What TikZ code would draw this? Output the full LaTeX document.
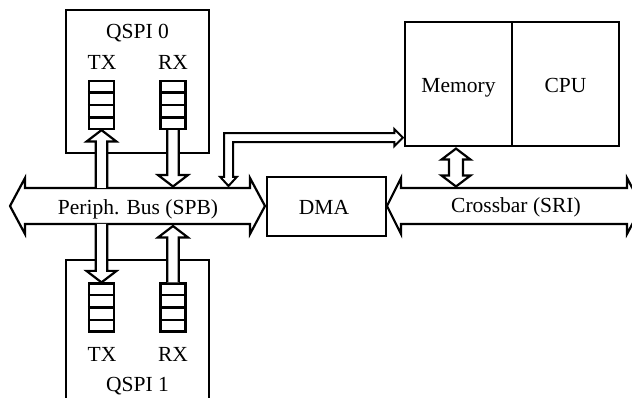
\documentclass[tikz,border=0pt]{standalone}
\usepackage{fontspec}
\setmainfont{Liberation Serif}
\usetikzlibrary{calc}
\newcommand\fifo[3]{%
  \node[fifobox] (#1) at (#2,#3) {};
  \foreach \k in {1,2,3}{\draw ($(#1.north west)!\k/4!(#1.south west)$) -- ($(#1.north east)!\k/4!(#1.south east)$);}
}
% vertical hollow arrow: #1 tip, #2 tail, #3 = 1 (up) or -1 (down)
\newcommand\vhollow[3]{%
  \filldraw[harrow] ($(#2)+(-5.8,0)$) -- ($(#1)+(-5.8,#3*11.5)$) -- ($(#1)+(-15,#3*11.5)$) -- (#1)
    -- ($(#1)+(15,#3*11.5)$) -- ($(#1)+(5.8,#3*11.5)$) -- ($(#2)+(5.8,0)$);
}
\begin{document}
\begin{tikzpicture}[x=1pt,y=-1pt,line width=2.2pt,
  lbl/.style={anchor=base,inner sep=0pt,font=\fontsize{21.5}{25}\selectfont},
  box/.style={draw,inner sep=0pt},
  fifobox/.style={draw,inner sep=0pt,minimum width=25,minimum height=48},
  harrow/.style={draw=black,fill=white},
  bus/.style={draw=black,fill=white}]
\useasboundingbox (0,0) rectangle (632,398);
\clip (0,0) rectangle (632,398);

% QSPI boxes
\node[box,minimum width=143,minimum height=143] (q0) at (137.5,81.5) {};
\node[box,minimum width=143,minimum height=170] (q1) at (137.5,345) {};
\node[lbl] (q0t) at (137.5,39) {QSPI 0};
\node[lbl] (q1t) at (137.5,391) {QSPI 1};
\node[lbl] (tx0) at (102,70) {TX};
\node[lbl] (rx0) at (173,70) {RX};
\node[lbl] (tx1) at (102,361) {TX};
\node[lbl] (rx1) at (173,361) {RX};

% FIFOs
\fifo{fT0}{101.5}{105}
\fifo{fR0}{173}{105}
\fifo{fT1}{101.5}{307.5}
\fifo{fR1}{173}{307.5}

% Peripheral bus (SPB)
\filldraw[bus] (10,206) -- (25,178) -- (25,188) -- (250,188) -- (250,178) -- (265,206)
  -- (250,234) -- (250,224) -- (25,224) -- (25,234) -- cycle;
\node[lbl] (spb) at (138,215) {Periph. Bus (SPB)};
\coordinate (spbTop) at (138,188);
\coordinate (spbBot) at (138,224);

% Crossbar (SRI)
\filldraw[bus] (387,206) -- (401,178) -- (401,188) -- (627,188) -- (627,178) -- (642,206)
  -- (627,234) -- (627,224) -- (401,224) -- (401,234) -- cycle;
\node[lbl] (sri) at (516,213) {Crossbar (SRI)};
\coordinate (xbTop) at (516,188);

% DMA
\node[box,minimum width=119,minimum height=59] (dma) at (326.5,206.5) {};
\node[lbl] (dmat) at (324,215) {DMA};

% Memory / CPU
\node[box,minimum width=107,minimum height=124] (mem) at (458.5,84) {};
\node[box,minimum width=107,minimum height=124] (cpu) at (565.5,84) {};
\node[lbl] (memt) at (458.5,93) {Memory};
\node[lbl] (cput) at (565.5,93) {CPU};

% QSPI <-> bus arrows
\coordinate (t0tail) at (fT0.south |- spbTop);
\coordinate (r0tip) at ($(fR0.south |- spbTop)+(0,-1.5)$);
\coordinate (t1tail) at (fT1.north |- spbBot);
\coordinate (r1tip) at ($(fR1.north |- spbBot)+(0,2)$);
\vhollow{fT0.south}{t0tail}{1}
\vhollow{r0tip}{fR0.south}{-1}
\vhollow{fT1.north}{t1tail}{-1}
\vhollow{r1tip}{fR1.north}{1}

% SPB <-> Memory hook arrow
\coordinate (hookB) at (228.5,186);
\coordinate (hookM) at ($(mem.south west)+(-1,-9.5)$);
\filldraw[harrow,line width=2pt] (hookB)
  -- ($(hookB)+(8.25,-9)$) -- ($(hookB)+(4.5,-9)$)
  -- ($(hookB |- hookM)+(4.5,4.5)$)
  -- ($(hookM)+(-8.5,4.5)$) -- ($(hookM)+(-8.5,8.5)$) -- (hookM)
  -- ($(hookM)+(-8.5,-8.5)$) -- ($(hookM)+(-8.5,-4.5)$)
  -- ($(hookB |- hookM)+(-4.5,-4.5)$)
  -- ($(hookB)+(-4.5,-9)$) -- ($(hookB)+(-8.25,-9)$) -- cycle;

% Memory <-> Crossbar double arrow
\coordinate (dT) at ($(mem.south)+(-2.5,1.5)$);
\coordinate (dB) at ($(dT |- xbTop)+(0,-1.5)$);
\filldraw[harrow] (dT) -- ($(dT)+(14.5,11)$) -- ($(dT)+(7,11)$) -- ($(dB)+(7,-11)$)
  -- ($(dB)+(14.5,-11)$) -- (dB) -- ($(dB)+(-14.5,-11)$) -- ($(dB)+(-7,-11)$)
  -- ($(dT)+(-7,11)$) -- ($(dT)+(-14.5,11)$) -- cycle;
\end{tikzpicture}
\end{document}
